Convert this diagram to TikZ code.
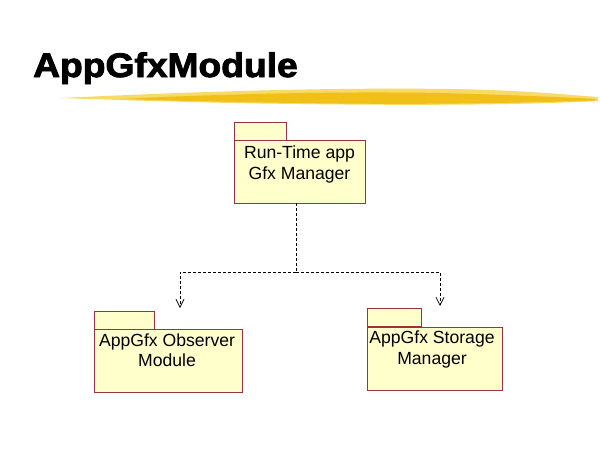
\documentclass[tikz,border=0pt]{standalone}
\usepackage{fontspec}
\setmainfont{Liberation Sans}
\newfontfamily\titlefont[FakeBold=2.5]{Liberation Sans Bold}
\usetikzlibrary{arrows.meta}
\definecolor{pkgfill}{HTML}{FFFFCC}
\definecolor{pkgline}{HTML}{993344}
\definecolor{brushA}{HTML}{F0C018}
\definecolor{brushB}{HTML}{F8DA66}
\tikzset{
  pkg/.style={draw=pkgline, fill=pkgfill, line width=0.9pt, inner sep=0pt, minimum width=#1},
  pkgbody/.style={pkg=#1, minimum height=63pt},
  pkgtab/.style={pkg=#1, minimum height=18pt},
  pkgtext/.style={align=center, font=\fontsize{17.6}{20.5}\selectfont, inner sep=0pt, anchor=north},
  dep/.style={draw=black, dashed, dash pattern=on 3pt off 2pt, line width=0.7pt},
  deparrow/.style={dep, -{Straight Barb[length=8pt,width=8pt,line width=0.7pt]}}
}
\begin{document}
\begin{tikzpicture}[x=1pt,y=-1pt]
\useasboundingbox (0,0) rectangle (600,450);
\fill[white] (0,0) rectangle (600,450);
% title
\node[anchor=base west, inner sep=0pt, font=\fontsize{34}{34}\selectfont\titlefont] (title) at (33,77) {\scalebox{1.094}[1]{AppGfxModule}};
% brush stroke
\fill[brushB] (60,98) .. controls (150,94) and (300,87) .. (450,89) .. controls (520,90) and (570,95) .. (598,97) -- (598,101) .. controls (540,104) and (450,106) .. (300,104) .. controls (200,103) and (120,100) .. (60,98) -- cycle;
\fill[brushA] (120,99) .. controls (200,95) and (320,91) .. (440,93) .. controls (510,95) and (560,97) .. (595,99) -- (595,100.5) .. controls (520,103) and (420,105) .. (300,103) .. controls (220,102) and (170,100.5) .. (120,99) -- cycle;
% top package
\node[pkgtab=52pt] (toptab) at (260,131) {};
\node[pkgbody=131pt] (top) at (299.5,171.5) {};
\node[pkgtext] (toptext) at (299.5,146) {Run-Time app\\Gfx Manager};
% left package
\node[pkgtab=60pt] (lefttab) at (124,320) {};
\node[pkgbody=148pt] (left) at (168,360.5) {};
\node[pkgtext] (lefttext) at (167,333.5) {AppGfx Observer\\Module};
% right package
\node[pkgtab=54pt] (righttab) at (394,317.5) {};
\node[pkgbody=135pt] (right) at (434.5,358.5) {};
\node[pkgtext] (righttext) at (432,331) {AppGfx Storage\\Manager};
% connectors
\coordinate (junc) at (296,272);
\coordinate (lend) at (180,308);
\coordinate (rend) at (440,306);
\draw[dep] (top.south -| junc) -- (junc);
\draw[deparrow] (junc) -| (lend);
\draw[deparrow] (junc) -| (rend);
\end{tikzpicture}
\end{document}
